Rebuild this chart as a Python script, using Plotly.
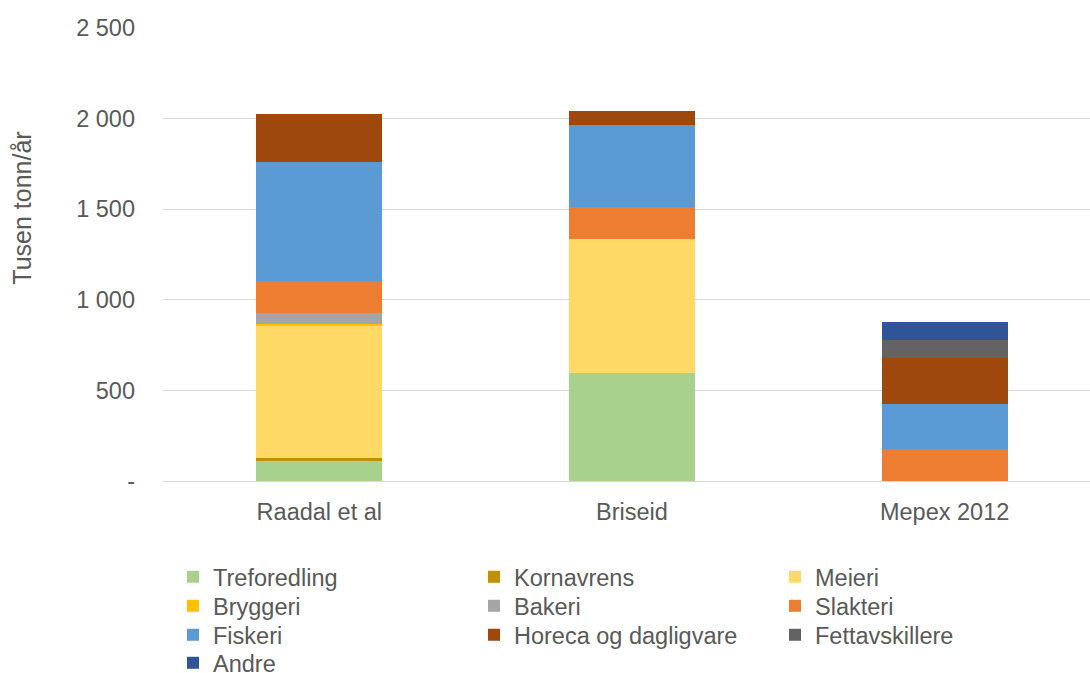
import plotly.graph_objects as go

# Categories (sources) and series values, thousand tonnes per year
categories = ["Raadal et al", "Briseid", "Mepex 2012"]

treforedling = [108, 596, 0]
kornavrens = [20, 0, 0]
meieri = [730, 739, 0]
bryggeri = [7, 0, 0]
bakeri = [61, 0, 0]
slakteri = [177, 177, 176]
fiskeri = [658, 454, 251]
horeca = [262, 77, 250]
fettavskillere = [0, 0, 100]
andre = [0, 0, 99]

series_names = ["Treforedling", "Kornavrens", "Meieri", "Bryggeri", "Bakeri",
                "Slakteri", "Fiskeri", "Horeca og dagligvare", "Fettavskillere", "Andre"]
series_values = [treforedling, kornavrens, meieri, bryggeri, bakeri,
                 slakteri, fiskeri, horeca, fettavskillere, andre]
series_colors = ["#A9D18E", "#BF9000", "#FFD966", "#FFC000", "#A5A5A5",
                 "#ED7D31", "#5B9BD5", "#9E480E", "#636363", "#2F5597"]

y_tickvals = [0, 500, 1000, 1500, 2000, 2500]
y_ticktext = ["-", "500", "1 000", "1 500", "2 000", "2 500"]
y_title = "Tusen tonn/år"

W, H = 1090, 673
FONT = "Liberation Sans, Arial, sans-serif"
TEXT_COLOR = "#595959"
GRID_COLOR = "#D9D9D9"

# Legend laid out as rows of three: one horizontal legend per row
legend_ids = ["legend", "legend2", "legend3", "legend4"]
row_centers_px = [577, 606, 635, 663]

fig = go.Figure()
for i, (name, vals, col) in enumerate(zip(series_names, series_values, series_colors)):
    fig.add_trace(go.Bar(
        x=categories,
        y=[v if v else None for v in vals],
        name=name,
        marker=dict(color=col, line=dict(width=0)),
        width=0.403,
        legend=legend_ids[i // 3],
    ))

legend_common = dict(
    orientation="h",
    xref="container",
    yref="container",
    xanchor="left",
    yanchor="middle",
    font=dict(family=FONT, size=23.5, color=TEXT_COLOR),
    bgcolor="rgba(0,0,0,0)",
    itemwidth=30,
    entrywidth=256,
    entrywidthmode="pixels",
    traceorder="normal",
    itemclick=False,
    itemdoubleclick=False,
)
legend_layout = {}
for lid, yc in zip(legend_ids, row_centers_px):
    legend_layout[lid] = dict(legend_common, x=173 / W, y=1 - yc / H)

fig.update_layout(
    width=W,
    height=H,
    barmode="stack",
    plot_bgcolor="white",
    paper_bgcolor="white",
    margin=dict(l=163, r=0, t=28, b=192),
    font=dict(family=FONT, size=23.5, color=TEXT_COLOR),
    showlegend=True,
    xaxis=dict(
        type="category",
        range=[-0.5, 2.465],
        showgrid=False,
        showline=False,
        ticks="",
        ticklabelstandoff=14,
        tickfont=dict(family=FONT, size=23.5, color=TEXT_COLOR),
        fixedrange=True,
    ),
    yaxis=dict(
        range=[0, 2500],
        tickvals=y_tickvals,
        ticktext=y_ticktext,
        showgrid=True,
        gridcolor=GRID_COLOR,
        gridwidth=1,
        zeroline=True,
        zerolinecolor=GRID_COLOR,
        zerolinewidth=1,
        showline=False,
        ticks="",
        ticklabelstandoff=27,
        tickfont=dict(family=FONT, size=23.5, color=TEXT_COLOR),
        fixedrange=True,
    ),
    annotations=[dict(
        text=y_title,
        xref="paper", yref="paper",
        x=-163 / (W - 163) + 22 / (W - 163),
        y=(480.5 - 208.5) / 452.5,
        xanchor="center", yanchor="middle",
        textangle=-90,
        showarrow=False,
        font=dict(family=FONT, size=25, color=TEXT_COLOR),
    )],
    **legend_layout,
)

fig.write_html("out.html")
